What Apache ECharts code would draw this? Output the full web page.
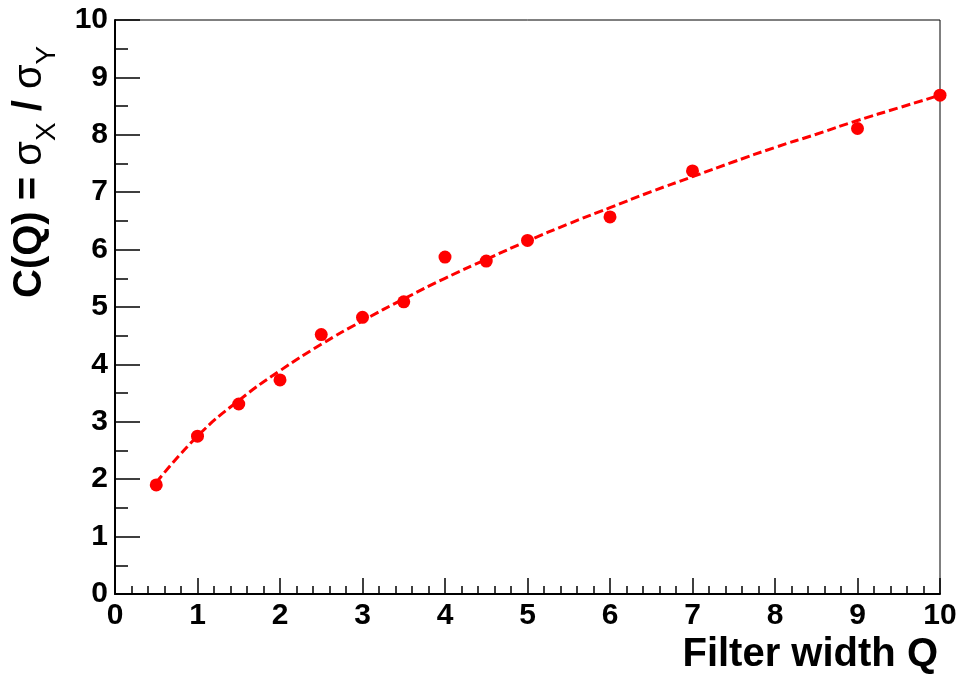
<!DOCTYPE html>
<html>
<head>
<meta charset="utf-8">
<script src="https://cdn.jsdelivr.net/npm/echarts@6/dist/echarts.min.js"></script>
<style>
html,body{margin:0;padding:0;background:#fff;}
#chart{width:960px;height:684px;}
</style>
</head>
<body>
<div id="chart"></div>
<script>
// Measured points
var filterQ = [0.5, 1, 1.5, 2, 2.5, 3, 3.5, 4, 4.5, 5, 6, 7, 9, 10];
var ratioC  = [1.90, 2.75, 3.31, 3.73, 4.52, 4.82, 5.09, 5.87, 5.80, 6.16, 6.57, 7.37, 8.11, 8.69];

// Fitted dashed curve
var fitQ = [0.5, 1, 1.5, 2, 2.5, 3, 3.5, 4, 4.5, 5, 5.5, 6, 6.5, 7, 7.5, 8, 8.5, 9, 9.5, 10];
var fitC = [1.94, 2.75, 3.37, 3.89, 4.35, 4.76, 5.14, 5.50, 5.83, 6.15, 6.45, 6.73, 7.01, 7.27, 7.53, 7.78, 8.01, 8.25, 8.47, 8.69];

// Axis tick labels
var xTicks = ['0','1','2','3','4','5','6','7','8','9','10'];
var yTicks = ['0','1','2','3','4','5','6','7','8','9','10'];

var xTitle = 'Filter width Q';

var chart = echarts.init(document.getElementById('chart'), null, {renderer: 'canvas'});

var pts = filterQ.map(function (q, i) { return [q, ratioC[i]]; });
var fit = fitQ.map(function (q, i) { return [q, fitC[i]]; });

var labelFont = {
  color: '#000', fontFamily: 'Liberation Sans, Arial, sans-serif',
  fontWeight: 'bold', fontSize: 30
};

var option = {
  animation: false,
  backgroundColor: '#fff',
  grid: { left: 115, right: 20, top: 20, bottom: 90, show: true, borderColor: '#000', borderWidth: 1 },
  xAxis: {
    type: 'value', min: 0, max: 10, interval: 1,
    axisLine: { show: true, onZero: false, lineStyle: { color: '#000', width: 2 } },
    axisTick: { show: true, inside: true, length: 16, lineStyle: { color: '#000', width: 1.5 } },
    minorTick: { show: true, splitNumber: 5, length: 8, lineStyle: { color: '#000', width: 1.5 } },
    splitLine: { show: false },
    axisLabel: Object.assign({ margin: 7, formatter: function (v) { return xTicks[Math.round(v)]; } }, labelFont)
  },
  yAxis: {
    type: 'value', min: 0, max: 10, interval: 1,
    axisLine: { show: true, onZero: false, lineStyle: { color: '#000', width: 2 } },
    axisTick: { show: true, inside: true, length: 25, lineStyle: { color: '#000', width: 1.5 } },
    minorTick: { show: true, splitNumber: 2, length: 13, lineStyle: { color: '#000', width: 1.5 } },
    splitLine: { show: false },
    axisLabel: Object.assign({ margin: 7, padding: [6, 0, 0, 0], formatter: function (v) { return yTicks[Math.round(v)]; } }, labelFont)
  },
  graphic: [
    {
      type: 'text', x: 938, y: 675,
      style: {
        text: xTitle, align: 'right', verticalAlign: 'bottom',
        font: 'bold 40px "Liberation Sans", Arial, sans-serif', fill: '#000'
      }
    },
    {
      type: 'text', x: 35.5, y: 298, rotation: Math.PI / 2,
      style: {
        text: '{m|C(Q) = }{s|σ}{sub|X}{m| / }{s|σ}{sub|Y}',
        align: 'left', verticalAlign: 'middle',
        rich: {
          m: { fontSize: 40, fontWeight: 'bold', fontFamily: 'Liberation Sans, Arial, sans-serif', lineHeight: 40, verticalAlign: 'top', fill: '#000' },
          s: { fontSize: 40, fontWeight: 'normal', fontFamily: 'Liberation Sans, Arial, sans-serif', lineHeight: 40, verticalAlign: 'top', fill: '#000' },
          sub: { fontSize: 28, fontWeight: 'normal', fontFamily: 'Liberation Sans, Arial, sans-serif', padding: [23, 0, 0, 0], verticalAlign: 'bottom', fill: '#000' }
        }
      }
    }
  ],
  series: [
    {
      type: 'line', data: fit, smooth: true, showSymbol: false, z: 2,
      lineStyle: { color: '#ff0000', width: 3, type: [9, 4] }
    },
    {
      type: 'scatter', data: pts, symbol: 'circle', symbolSize: 13, z: 3,
      itemStyle: { color: '#ff0000', opacity: 1 }
    }
  ]
};
chart.setOption(option);
</script>
</body>
</html>
